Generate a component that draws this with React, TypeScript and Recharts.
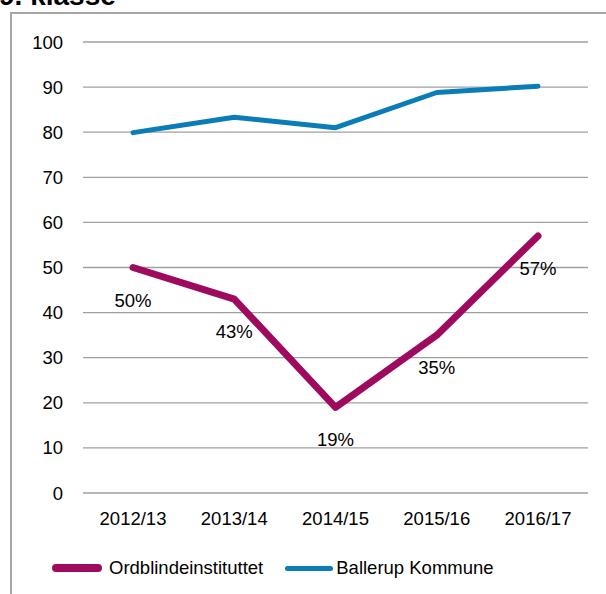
import React from 'react';
import { LineChart, Line, XAxis, YAxis, CartesianGrid, LabelList } from 'recharts';

const years = ['2012/13', '2013/14', '2014/15', '2015/16', '2016/17'];
const ordblinde = [50, 43, 19, 35, 57];
const ballerup = [79.9, 83.3, 81, 88.8, 90.2];
const yTicks = [0, 10, 20, 30, 40, 50, 60, 70, 80, 90, 100];

const data = years.map((year, i) => ({ year, ordblinde: ordblinde[i], ballerup: ballerup[i] }));

const FONT = '"Liberation Sans", Arial, sans-serif';
const PURPLE = '#9e0a5e';
const BLUE = '#0a7db8';

const LegendBox = () => (
  <div style={{ display: 'flex', alignItems: 'center', fontFamily: FONT, fontSize: 18.5, color: '#000' }}>
    <span style={{ display: 'inline-block', width: 50, height: 8, borderRadius: 4, background: PURPLE, marginLeft: 52, marginRight: 7 }} />
    <span>Ordblindeinstituttet</span>
    <span style={{ display: 'inline-block', width: 48, height: 5, borderRadius: 3, background: BLUE, marginLeft: 22, marginRight: 3 }} />
    <span>Ballerup Kommune</span>
  </div>
);

export default function App() {
  return (
    <div style={{ position: 'absolute', left: 0, top: 0, width: 606, height: 594, overflow: 'hidden', background: '#fff' }}>
      <div style={{ position: 'absolute', left: -1, top: -18.5, fontFamily: FONT, fontWeight: 'bold', fontSize: 28, lineHeight: '28px' }}>
        9. klasse
      </div>
      <div style={{ position: 'absolute', left: 10, top: 12, width: 620, height: 600, borderTop: '2px solid #a6a6a6', borderLeft: '2px solid #a6a6a6' }} />
      <div style={{ position: 'absolute', left: 0, top: 0 }}>
        <LineChart width={606} height={594} data={data} margin={{ top: 42, right: 18, left: 0, bottom: 0 }}>
          <CartesianGrid vertical={false} stroke="#a0a0a0" strokeWidth={1.3} />
          <XAxis
            dataKey="year"
            axisLine={false}
            tickLine={false}
            tickSize={0}
            tickMargin={19}
            height={101}
            padding={{ left: 50, right: 50 }}
            tick={{ fill: '#000', fontSize: 18.5, fontFamily: FONT }}
          />
          <YAxis
            domain={[0, 100]}
            ticks={yTicks}
            interval={0}
            axisLine={false}
            tickLine={false}
            tickSize={0}
            tickMargin={20}
            width={83}
            tick={{ fill: '#000', fontSize: 18.5, fontFamily: FONT }}
          />
          <Line
            dataKey="ordblinde"
            name="Ordblindeinstituttet"
            stroke={PURPLE}
            strokeWidth={7}
            strokeLinecap="round"
            strokeLinejoin="round"
            dot={false}
            type="linear"
            isAnimationActive={false}
          >
            <LabelList
              dataKey="ordblinde"
              position="bottom"
              offset={26}
              formatter={(v: number) => `${v}%`}
              style={{ fill: '#000', fontSize: 18.5, fontFamily: FONT }}
            />
          </Line>
          <Line
            dataKey="ballerup"
            name="Ballerup Kommune"
            stroke={BLUE}
            strokeWidth={5}
            strokeLinecap="round"
            strokeLinejoin="round"
            dot={false}
            type="linear"
            isAnimationActive={false}
          />
        </LineChart>
      </div>
      <div style={{ position: 'absolute', left: 0, top: 557 }}>
        <LegendBox />
      </div>
    </div>
  );
}
